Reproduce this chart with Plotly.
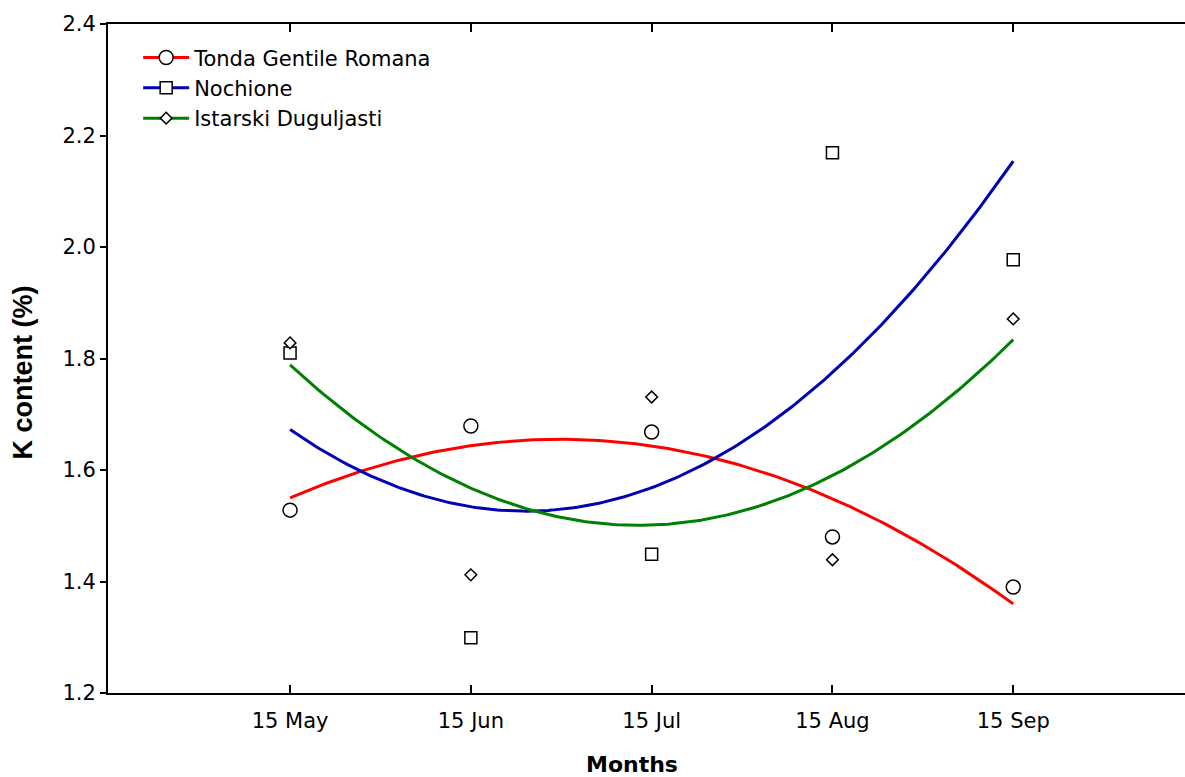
import numpy as np
import plotly.graph_objects as go

months = ["15 May", "15 Jun", "15 Jul", "15 Aug", "15 Sep"]
x_pos = [0, 1, 2, 3, 4]

tonda = [1.528, 1.679, 1.668, 1.480, 1.390]
nochione = [1.810, 1.299, 1.449, 2.169, 1.977]
istarski = [1.828, 1.412, 1.731, 1.439, 1.871]

names = ["Tonda Gentile Romana", "Nochione", "Istarski Duguljasti"]
series = [tonda, nochione, istarski]
colors = ["#ff0000", "#0000b4", "#008000"]
symbols = ["circle", "square", "diamond"]
sizes = [14, 12, 9]

yticks = [1.2, 1.4, 1.6, 1.8, 2.0, 2.2, 2.4]

FONT = "DejaVu Sans"
FS = 21

fig = go.Figure()
xs = np.linspace(0, 4, 200)
for name, ys, col in zip(names, series, colors):
    coef = np.polyfit(x_pos, ys, 2)
    fig.add_trace(go.Scatter(x=xs, y=np.polyval(coef, xs), mode="lines",
                             line=dict(color=col, width=3), showlegend=False,
                             hoverinfo="skip"))
for name, ys, sym, sz in zip(names, series, symbols, sizes):
    fig.add_trace(go.Scatter(x=x_pos, y=ys, mode="markers", showlegend=False,
                             marker=dict(symbol=sym, size=sz, color="white",
                                         line=dict(color="black", width=1.5)),
                             name=name))
# legend entries
for name, col, sym, sz in zip(names, colors, symbols, sizes):
    fig.add_trace(go.Scatter(x=[None], y=[None], mode="lines+markers", name=name,
                             legendgroup=name,
                             line=dict(color=col, width=3),
                             marker=dict(symbol=sym, size=sz, color="white",
                                         line=dict(color="black", width=1.5))))

fig.update_layout(
    width=1185, height=777,
    margin=dict(l=108, r=0, t=24, b=84, autoexpand=False),
    plot_bgcolor="white", paper_bgcolor="white",
    font=dict(family=FONT, size=FS, color="black"),
    legend=dict(x=0.028, y=0.98, xanchor="left", yanchor="top",
                bgcolor="rgba(0,0,0,0)", font=dict(size=FS, family=FONT),
                tracegroupgap=0, itemwidth=46),
    xaxis=dict(range=[-1.007, 4.95], tickmode="array", tickvals=x_pos,
               ticktext=months, ticks="inside", ticklen=8, tickwidth=1.5,
               tickcolor="black", showline=True, linecolor="black", linewidth=2,
               mirror="ticks", showgrid=False, zeroline=False,
               ticklabelstandoff=8, automargin=False,
               tickfont=dict(size=FS, family=FONT)),
    yaxis=dict(range=[1.2, 2.4], tickmode="array", tickvals=yticks,
               ticktext=[f"{v:.1f}" for v in yticks], ticks="outside",
               ticklen=6, tickwidth=1.5, tickcolor="black", showline=True,
               linecolor="black", linewidth=2, showgrid=False, zeroline=False,
               automargin=False,
               tickfont=dict(size=FS, family=FONT)),
    annotations=[
        dict(text="<b>Months</b>", xref="paper", yref="paper",
             x=0.4865, y=-0.1076, xanchor="center", yanchor="middle",
             showarrow=False, font=dict(size=22, family=FONT)),
        dict(text="<b>K content (%)</b>", xref="paper", yref="paper",
             x=-0.0790, y=0.479, xanchor="center", yanchor="middle",
             textangle=-90, showarrow=False,
             font=dict(size=27, family="Liberation Sans")),
    ],
)

fig.write_html("out.html", config={"displayModeBar": False},
               post_script="document.body.style.margin='0';document.body.style.padding='0';")
